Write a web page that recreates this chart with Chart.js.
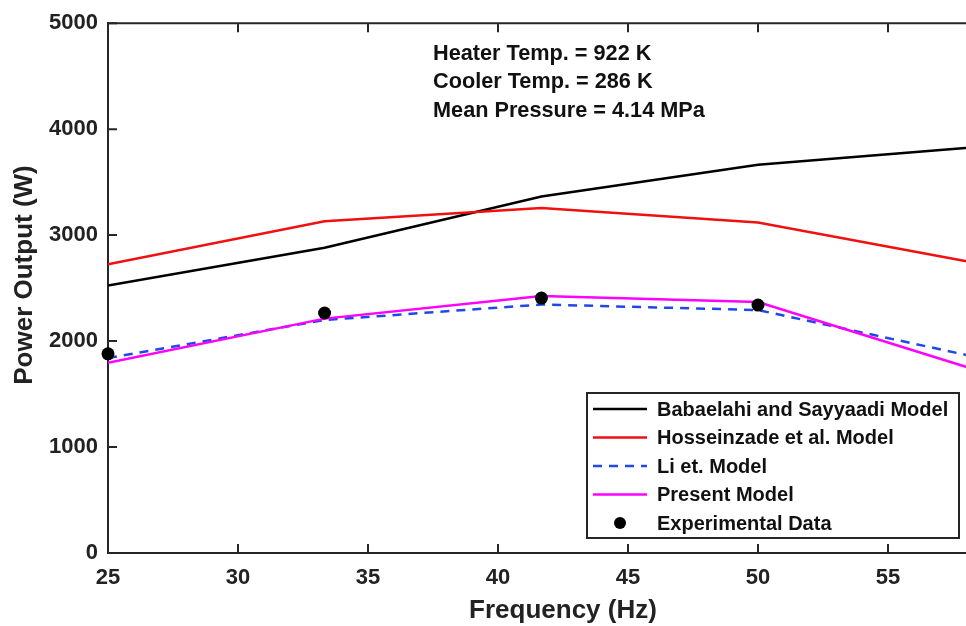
<!DOCTYPE html>
<html>
<head>
<meta charset="utf-8">
<script src="https://cdn.jsdelivr.net/npm/chart.js@4/dist/chart.umd.min.js"></script>
<style>
    html, body { margin: 0; padding: 0; background: #fff; overflow: hidden; }
    #wrap { width: 1026px; height: 626px; position: relative; }
</style>
</head>
<body>
<div id="wrap"><canvas id="powerChart"></canvas></div>
<script>
// values (frequency in Hz, power in W)
const frequency = [25, 33.33, 41.67, 50, 58.33];
const babaelahi = [2525, 2880, 3365, 3665, 3830];
const hosseinzade = [2725, 3130, 3255, 3120, 2740];
const liModel = [1840, 2199, 2345, 2293, 1852];
const presentModel = [1795, 2212, 2425, 2368, 1732];
const expFrequency = [25, 33.33, 41.67, 50];
const experimental = [1880, 2265, 2406, 2340];

const xTicks = [25, 30, 35, 40, 45, 50, 55];
const yTicks = [0, 1000, 2000, 3000, 4000, 5000];
const infoLines = ['Heater Temp. = 922 K', 'Cooler Temp. = 286 K', 'Mean Pressure = 4.14 MPa'];
const yTitle = 'Power Output (W)';

const axisColor = '#262626';
const FONT = '"Liberation Sans", Arial, Helvetica, sans-serif';

function pts(xs, ys) {
    return xs.map((x, i) => ({ x: x, y: ys[i] }));
}

// inward ticks, top border, y title, info text and legend box
const matlabLook = {
    id: 'matlabLook',
    afterDraw(chart) {
        const ctx = chart.ctx;
        const area = chart.chartArea;
        const xs = chart.scales.x;
        const ys = chart.scales.y;
        ctx.save();
        ctx.strokeStyle = axisColor;
        ctx.lineWidth = 2;
        ctx.beginPath();
        ctx.moveTo(area.left, area.top);
        ctx.lineTo(area.right, area.top);
        ctx.lineTo(area.right, area.bottom);
        ctx.stroke();
        ctx.beginPath();
        xs.ticks.forEach(t => {
            const px = xs.getPixelForValue(t.value);
            ctx.moveTo(px, area.bottom);
            ctx.lineTo(px, area.bottom - 9);
            ctx.moveTo(px, area.top);
            ctx.lineTo(px, area.top + 9);
        });
        ys.ticks.forEach(t => {
            const py = ys.getPixelForValue(t.value);
            ctx.moveTo(area.left, py);
            ctx.lineTo(area.left + 9, py);
        });
        ctx.stroke();

        // y axis title
        ctx.fillStyle = '#222';
        ctx.font = 'bold 26px ' + FONT;
        ctx.textBaseline = 'middle';
        ctx.textAlign = 'center';
        ctx.save();
        ctx.translate(25, 275);
        ctx.rotate(-Math.PI / 2);
        ctx.fillText(yTitle, 0, 0);
        ctx.restore();

        // info text
        ctx.fillStyle = '#111';
        ctx.font = 'bold 21.7px ' + FONT;
        ctx.textAlign = 'left';
        infoLines.forEach((s, i) => ctx.fillText(s, 433, 54 + i * 28.5));

        // legend
        const lx = 587, ly = 393, lw = 372, lh = 145;
        ctx.fillStyle = '#fff';
        ctx.fillRect(lx, ly, lw, lh);
        ctx.strokeStyle = axisColor;
        ctx.lineWidth = 2;
        ctx.strokeRect(lx, ly, lw, lh);
        ctx.font = 'bold 20px ' + FONT;
        chart.data.datasets.forEach((ds, i) => {
            const cy = ly + 16 + i * 28.5;
            if (ds.showLine === false) {
                ctx.fillStyle = ds.pointBackgroundColor;
                ctx.beginPath();
                ctx.arc(620, cy, 6, 0, Math.PI * 2);
                ctx.fill();
            } else {
                ctx.strokeStyle = ds.borderColor;
                ctx.lineWidth = ds.borderWidth;
                ctx.setLineDash(ds.borderDash || []);
                ctx.beginPath();
                ctx.moveTo(593, cy);
                ctx.lineTo(647, cy);
                ctx.stroke();
                ctx.setLineDash([]);
            }
            ctx.fillStyle = '#111';
            ctx.fillText(ds.label, 657, cy + 1);
        });
        ctx.restore();
    }
};

const powerChart = new Chart(document.querySelector('#powerChart'), {
    type: 'scatter',
    data: {
        datasets: [{
            label: 'Babaelahi and Sayyaadi Model',
            data: pts(frequency, babaelahi),
            showLine: true,
            borderColor: '#000000',
            borderWidth: 2.5,
            pointRadius: 0,
            order: 4
        }, {
            label: 'Hosseinzade et al. Model',
            data: pts(frequency, hosseinzade),
            showLine: true,
            borderColor: '#f01010',
            borderWidth: 2.5,
            pointRadius: 0,
            order: 3
        }, {
            label: 'Li et. Model',
            data: pts(frequency, liModel),
            showLine: true,
            borderColor: '#1f48e6',
            borderWidth: 2.5,
            borderDash: [9, 7],
            pointRadius: 0,
            order: 2
        }, {
            label: 'Present Model',
            data: pts(frequency, presentModel),
            showLine: true,
            borderColor: '#ff00ff',
            borderWidth: 2.5,
            pointRadius: 0,
            order: 1
        }, {
            label: 'Experimental Data',
            data: pts(expFrequency, experimental),
            showLine: false,
            pointRadius: 6.5,
            pointBackgroundColor: '#000000',
            pointBorderWidth: 0,
            clip: false,
            order: 0
        }]
    },
    options: {
        responsive: true,
        maintainAspectRatio: false,
        animation: false,
        layout: { padding: { top: 20, right: 8, left: 0, bottom: 0 } },
        plugins: {
            legend: { display: false },
            tooltip: { enabled: false }
        },
        scales: {
            x: {
                type: 'linear',
                min: 25,
                max: 60,
                afterBuildTicks: s => { s.ticks = xTicks.map(v => ({ value: v })); },
                afterFit: s => { s.height = 73; },
                grid: { display: false, drawTicks: false },
                border: { color: axisColor, width: 2 },
                ticks: {
                    padding: 12,
                    color: '#222',
                    font: { family: FONT, size: 22, weight: 'bold' },
                    callback: v => String(v)
                },
                title: {
                    display: true,
                    text: 'Frequency (Hz)',
                    color: '#222',
                    padding: { top: 0, bottom: 0 },
                    font: { family: FONT, size: 26, weight: 'bold' }
                }
            },
            y: {
                min: 0,
                max: 5000,
                afterBuildTicks: s => { s.ticks = yTicks.map(v => ({ value: v })); },
                afterFit: s => { s.width = 108; },
                grid: { display: false, drawTicks: false },
                border: { color: axisColor, width: 2 },
                ticks: {
                    padding: 10,
                    color: '#222',
                    font: { family: FONT, size: 22, weight: 'bold' },
                    callback: v => String(v)
                }
            }
        }
    },
    plugins: [matlabLook]
});
</script>
</body>
</html>
